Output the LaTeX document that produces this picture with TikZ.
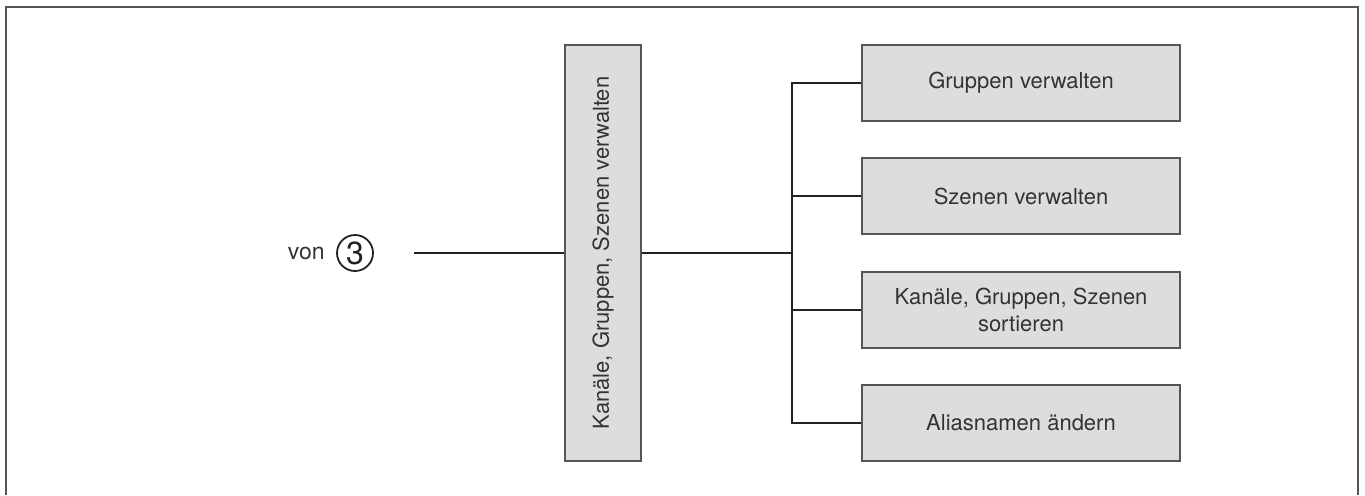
\documentclass[tikz,border=0pt]{standalone}
\usepackage{fontspec}
\setmainfont{TeX Gyre Heros}
\definecolor{boxfill}{HTML}{DCDDDF}
\definecolor{boxline}{HTML}{555555}
\definecolor{txt}{HTML}{333333}
\definecolor{conn}{HTML}{222222}
\begin{document}
\begin{tikzpicture}[x=0.5pt,y=-0.5pt,
  menubox/.style={draw=boxline, fill=boxfill, line width=1pt, text=txt, align=center, inner sep=0pt, font=\fontsize{11}{13.5}\selectfont},
  subbox/.style={menubox, minimum width=159pt, minimum height=38pt},
  link/.style={draw=conn, line width=1pt}]
\useasboundingbox (0,0) rectangle (1365,495);
\draw[draw=boxline, line width=1pt] (6,495) -- (6,7) -- (1358,7) -- (1358,495);
\node[menubox, minimum width=38pt, minimum height=208pt] (main) at (603,253) {};
\node[rotate=90, text=txt, font=\fontsize{11}{13.5}\selectfont] (maintext) at (main.center) {Kanäle, Gruppen, Szenen verwalten};
\node[subbox] (b1) at (1021,83) {Gruppen verwalten};
\node[subbox] (b2) at (1021,196) {Szenen verwalten};
\node[subbox] (b3) at (1021,310) {Kanäle, Gruppen, Szenen\\sortieren};
\node[subbox] (b4) at (1021,423) {Aliasnamen ändern};
\node[anchor=east, text=txt, inner sep=0pt, font=\fontsize{11.5}{13}\selectfont] (von) at (325,253) {von};
\node[circle, draw=conn, line width=0.9pt, minimum size=18pt, inner sep=0pt, text=conn, font=\fontsize{16}{16}\selectfont] (three) at (355,253) {3};
\coordinate (start) at (414,253);
\coordinate (trunk) at (792,253);
\draw[link] (start) -- (main.west);
\draw[link] (main.east) -- (trunk);
\draw[link] (b1.west) -- (b1.west -| trunk) -- (b4.west -| trunk) -- (b4.west);
\draw[link] (b2.west) -- (b2.west -| trunk);
\draw[link] (b3.west) -- (b3.west -| trunk);
\end{tikzpicture}
\end{document}
